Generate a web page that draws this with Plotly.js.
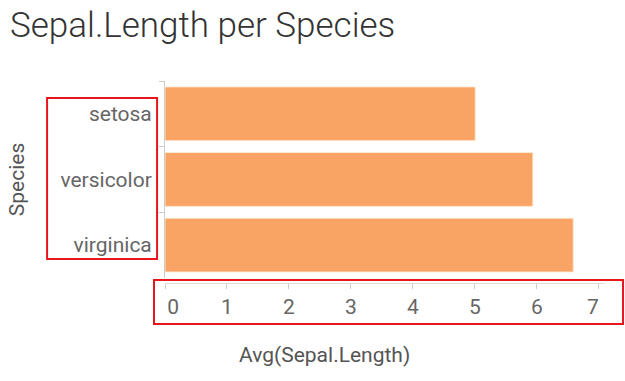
<!DOCTYPE html>
<html>
<head>
<meta charset="utf-8">
<script src="https://cdn.plot.ly/plotly-3.0.1.min.js"></script>
<style>html,body{margin:0;padding:0;background:#fff;}#chart{width:625px;height:381px;}</style>
</head>
<body>
<div id="chart"></div>
<script>
var species = ["setosa", "versicolor", "virginica"];
var avgSepalLength = [5.006, 5.936, 6.588];
var xTickValues = [0, 1, 2, 3, 4, 5, 6, 7];
var xTickText = ["\u2007\u20090", "1", "2", "3", "4", "5", "6", "7\u2007"];
var chartTitle = "Sepal.Length per Species";
var xTitle = "Avg(Sepal.Length)";
var yTitle = "Species";

var trace = {
  type: "bar",
  orientation: "h",
  x: avgSepalLength,
  y: species,
  marker: {color: "#F9A464", line: {color: "rgba(255,235,215,0.9)", width: 1}},
  hoverinfo: "x+y"
};

var layout = {
  width: 625, height: 381,
  margin: {l: 165, r: 20, t: 81, b: 98, autoexpand: false},
  paper_bgcolor: "#fff", plot_bgcolor: "#fff",
  font: {family: "Roboto, 'DejaVu Sans', sans-serif", color: "#666", size: 21},
  showlegend: false,
  bargap: 0.18,
  title: {
    text: chartTitle,
    font: {family: "Roboto", size: 35, weight: 300, color: "#333"},
    xref: "container", yref: "container",
    x: 10/625, xanchor: "left",
    y: 1 - 25/381, yanchor: "middle"
  },
  xaxis: {
    range: [0, 7.1],
    tickvals: xTickValues,
    ticktext: xTickText,
    anchor: "free", position: 0,
    showgrid: false, zeroline: false,
    showline: true, linecolor: "#ddd", linewidth: 1,
    ticks: "outside", ticklen: 5, tickcolor: "#ccc",
    tickfont: {size: 21, color: "#666"},
    automargin: false
  },
  yaxis: {
    domain: [0.025, 1],
    autorange: "reversed",
    categoryorder: "array", categoryarray: species,
    tickson: "boundaries",
    showgrid: false, zeroline: false,
    showline: true, linecolor: "#ccc", linewidth: 1,
    ticks: "outside", ticklen: 5, tickcolor: "#ccc",
    ticklabelstandoff: 8,
    tickfont: {size: 21, color: "#666"},
    automargin: false,
    title: {text: yTitle, standoff: 30, font: {size: 21, color: "#555"}}
  },
  annotations: [
    {text: xTitle, xref: "paper", yref: "paper", x: (324 - 165) / 440, y: (283 - 355) / 202,
     xanchor: "center", yanchor: "middle", showarrow: false, font: {size: 21, color: "#555"}}
  ],
  shapes: [
    {type: "rect", xref: "paper", yref: "paper", x0: -0.268, x1: -0.018, y0: 0.119, y1: 0.916,
     line: {color: "#E8161B", width: 2}, fillcolor: "rgba(0,0,0,0)"},
    {type: "rect", xref: "paper", yref: "paper", x0: -0.025, x1: 1.041, y0: -0.203, y1: 0.015,
     line: {color: "#E8161B", width: 2}, fillcolor: "rgba(0,0,0,0)"}
  ]
};

Plotly.newPlot("chart", [trace], layout, {displayModeBar: false, staticPlot: true});
</script>
</body>
</html>
